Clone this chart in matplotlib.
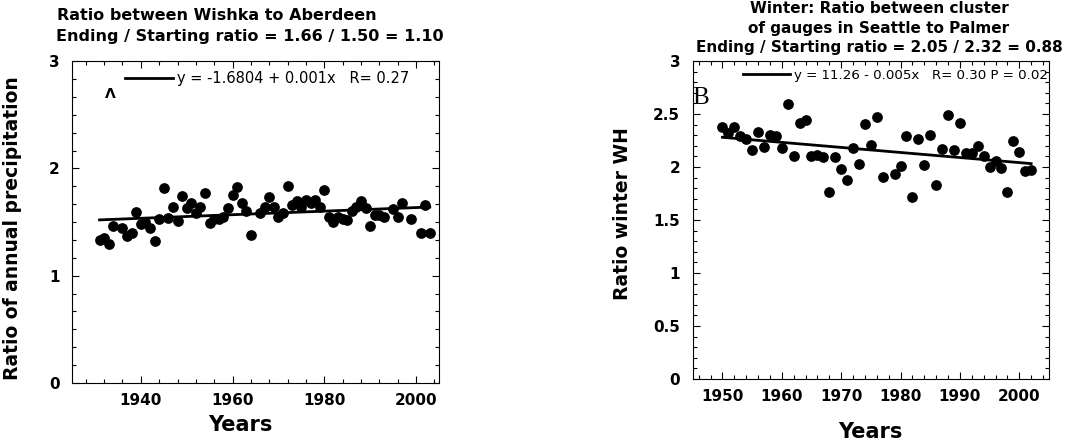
import numpy as np
import matplotlib
matplotlib.use("Agg")
import matplotlib.pyplot as plt
from matplotlib.ticker import MultipleLocator

# panel A: Wishka / Aberdeen annual ratio
years_a = np.array([1931, 1932, 1933, 1934, 1936, 1937, 1938, 1939, 1940, 1941,
                    1942, 1943, 1944, 1945, 1946, 1947, 1948, 1949, 1950, 1951,
                    1952, 1953, 1954, 1955, 1956, 1957, 1958, 1959, 1960, 1961,
                    1962, 1963, 1964, 1966, 1967, 1968, 1969, 1970, 1971, 1972,
                    1973, 1974, 1975, 1976, 1977, 1978, 1979, 1980, 1981, 1982,
                    1983, 1984, 1985, 1986, 1987, 1988, 1989, 1990, 1991, 1992,
                    1993, 1995, 1996, 1997, 1999, 2001, 2002, 2003])
ratio_a = np.array([1.33, 1.35, 1.30, 1.46, 1.44, 1.37, 1.40, 1.59, 1.48, 1.50,
                    1.44, 1.32, 1.53, 1.82, 1.54, 1.64, 1.51, 1.74, 1.63, 1.68,
                    1.58, 1.64, 1.77, 1.49, 1.53, 1.53, 1.55, 1.63, 1.75, 1.83,
                    1.68, 1.60, 1.38, 1.58, 1.64, 1.73, 1.64, 1.55, 1.58, 1.84,
                    1.66, 1.70, 1.64, 1.71, 1.68, 1.71, 1.64, 1.80, 1.55, 1.50,
                    1.55, 1.53, 1.52, 1.60, 1.64, 1.70, 1.63, 1.46, 1.57, 1.57,
                    1.55, 1.62, 1.55, 1.68, 1.53, 1.40, 1.66, 1.40])

# panel B: winter ratio Seattle cluster / Palmer
years_b = np.array([1950, 1951, 1952, 1953, 1954, 1955, 1956, 1957, 1958, 1959,
                    1960, 1961, 1962, 1963, 1964, 1965, 1966, 1967, 1968, 1969,
                    1970, 1971, 1972, 1973, 1974, 1975, 1976, 1977, 1979, 1980,
                    1981, 1982, 1983, 1984, 1985, 1986, 1987, 1988, 1989, 1990,
                    1991, 1992, 1993, 1994, 1995, 1996, 1997, 1998, 1999, 2000,
                    2001, 2002])
ratio_b = np.array([2.38, 2.32, 2.38, 2.29, 2.26, 2.16, 2.33, 2.19, 2.30, 2.29,
                    2.18, 2.59, 2.10, 2.42, 2.44, 2.10, 2.11, 2.09, 1.76, 2.09,
                    1.98, 1.88, 2.18, 2.03, 2.41, 2.21, 2.47, 1.91, 1.93, 2.01,
                    2.29, 1.72, 2.26, 2.02, 2.30, 1.83, 2.17, 2.49, 2.16, 2.42,
                    2.13, 2.13, 2.20, 2.10, 2.00, 2.06, 1.99, 1.76, 2.25, 2.14,
                    1.96, 1.97])

titles_a = ["Ratio between Wishka to Aberdeen",
            "Ending / Starting ratio = 1.66 / 1.50 = 1.10"]
titles_b = ["Winter: Ratio between cluster",
            "of gauges in Seattle to Palmer",
            "Ending / Starting ratio = 2.05 / 2.32 = 0.88"]
fit_label_a = "y = -1.6804 + 0.001x   R= 0.27"
fit_label_b = "y = 11.26 - 0.005x   R= 0.30 P = 0.02"

plt.rcParams["font.family"] = "DejaVu Sans"
fig = plt.figure(figsize=(10.73, 4.41), dpi=100)
axA = fig.add_axes([0.0671, 0.1315, 0.342, 0.730])
axB = fig.add_axes([0.6456, 0.1406, 0.332, 0.721])


def style(ax, xmin, xmax, xmaj, xmin_step, ymaj, ymin_step):
    ax.set_xlim(xmin, xmax)
    ax.set_ylim(0, 3)
    ax.xaxis.set_major_locator(MultipleLocator(xmaj))
    ax.xaxis.set_minor_locator(MultipleLocator(xmin_step))
    ax.yaxis.set_major_locator(MultipleLocator(ymaj))
    ax.yaxis.set_minor_locator(MultipleLocator(ymin_step))
    ax.tick_params(which="both", direction="in", top=True, right=True,
                   width=0.8, labelsize=11)
    ax.tick_params(which="major", length=5)
    ax.tick_params(which="minor", length=3)
    ax.tick_params(axis="x", which="major", pad=7)
    ax.tick_params(axis="y", which="major", pad=9)
    for lab in ax.get_xticklabels() + ax.get_yticklabels():
        lab.set_fontweight("bold")
    for s in ax.spines.values():
        s.set_linewidth(0.8)


def draw(ax, yrs, vals, label):
    ax.scatter(yrs, vals, s=45, color="black", zorder=3)
    slope, icpt = np.polyfit(yrs, vals, 1)
    xs = np.array([yrs.min(), yrs.max()])
    ax.plot(xs, icpt + slope * xs, color="black", lw=2, label=label)


draw(axA, years_a, ratio_a, fit_label_a)
style(axA, 1925, 2005, 20, 4, 1, 1 / 6)
axA.set_yticks([0, 1, 2, 3])
axA.set_yticklabels(["0", "1", "2", "3"], fontweight="bold")
axA.legend(loc="upper left", bbox_to_anchor=(0.144, 0.968), frameon=False,
           fontsize=10.5, handlelength=3.3, handletextpad=0.3,
           borderpad=0, borderaxespad=0)
axA.text(0.104, 0.897, "Λ", transform=axA.transAxes, ha="center", va="center",
         fontsize=10, fontweight="bold")
axA.set_xlabel("Years", fontsize=15, fontweight="bold")
axA.xaxis.set_label_coords(0.46, -0.099)
axA.set_ylabel("Ratio of annual precipitation", fontsize=13.5, fontweight="bold")
axA.yaxis.set_label_coords(-0.136, 0.48)

draw(axB, years_b, ratio_b, fit_label_b)
style(axB, 1945, 2005, 10, 2, 0.5, 0.1)
axB.set_yticks([0, 0.5, 1, 1.5, 2, 2.5, 3])
axB.set_yticklabels(["0", "0.5", "1", "1.5", "2", "2.5", "3"], fontweight="bold")
axB.legend(loc="upper left", bbox_to_anchor=(0.141, 0.976), frameon=False,
           fontsize=9.6, handlelength=3.5, handletextpad=0.3,
           borderpad=0, borderaxespad=0)
axB.text(-0.002, 0.885, "B", transform=axB.transAxes, ha="left", va="center",
         fontsize=18, family="Liberation Serif")
axB.set_xlabel("Years", fontsize=15, fontweight="bold")
axB.xaxis.set_label_coords(0.50, -0.135)
axB.set_ylabel("Ratio winter WH", fontsize=13.5, fontweight="bold")
axB.yaxis.set_label_coords(-0.170, 0.52)

# titles
fig.text(217 / 1073, 1 - 15 / 441, titles_a[0], ha="center", va="center",
         fontsize=11.5, fontweight="bold")
fig.text(250 / 1073, 1 - 36 / 441, titles_a[1], ha="center", va="center",
         fontsize=11.5, fontweight="bold")
for i, t in enumerate(titles_b):
    fig.text(879 / 1073, 1 - (8.5 + 19.5 * i) / 441, t, ha="center", va="center",
             fontsize=11, fontweight="bold")

fig.savefig("out.png", dpi=100)
